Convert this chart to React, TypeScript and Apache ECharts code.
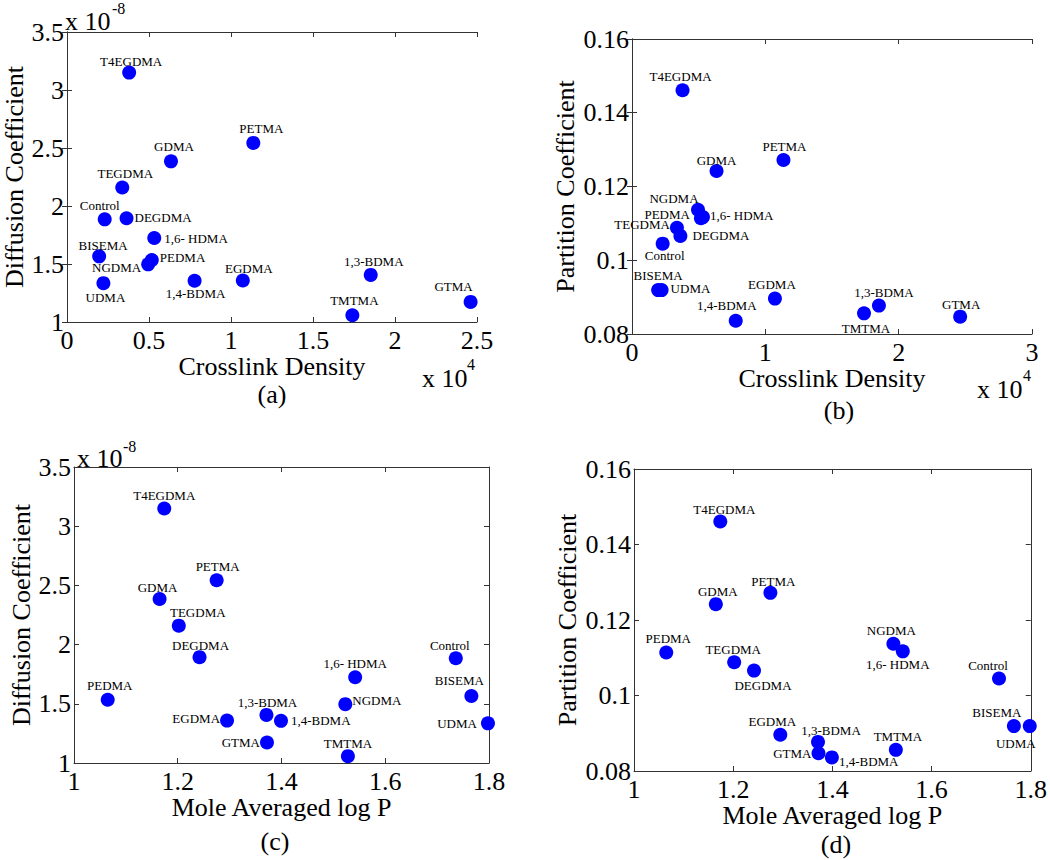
import React, { useEffect, useRef } from "react";
import * as echarts from "echarts";

// ---- data ----
const compounds = [
  "Control", "UDMA", "BISEMA", "TEGDMA", "T4EGDMA", "DEGDMA", "EGDMA", "GDMA",
  "NGDMA", "PEDMA", "1,3-BDMA", "1,4-BDMA", "1,6- HDMA", "PETMA", "TMTMA", "GTMA",
];
// Crosslink density, in units of 10^4
const crosslinkE4 = [0.23, 0.222, 0.196, 0.337, 0.379, 0.363, 1.072, 0.634, 0.495, 0.517, 1.852, 0.778, 0.532, 1.136, 1.74, 2.461];
// Mole averaged log P
const logP = [1.736, 1.798, 1.766, 1.202, 1.174, 1.242, 1.295, 1.165, 1.523, 1.065, 1.371, 1.399, 1.542, 1.275, 1.528, 1.372];
// Diffusion coefficient, in units of 10^-8
const diffusionE8 = [1.885, 1.335, 1.566, 2.16, 3.15, 1.894, 1.358, 2.385, 1.497, 1.534, 1.406, 1.356, 1.724, 2.544, 1.058, 1.173];
// Partition coefficient
const partition = [0.1045, 0.0919, 0.0919, 0.1088, 0.1461, 0.1066, 0.0896, 0.1242, 0.1137, 0.1114, 0.0877, 0.0836, 0.1117, 0.1272, 0.0856, 0.0847];

// tick labels
const crosslinkTicksA = [0, 0.5, 1, 1.5, 2, 2.5];
const crosslinkTicksB = [0, 1, 2, 3];
const logPTicks = [1, 1.2, 1.4, 1.6, 1.8];
const diffusionTicks = [1, 1.5, 2, 2.5, 3, 3.5];
const partitionTicks = [0.08, 0.1, 0.12, 0.14, 0.16];

// ---- label placement (layout only): [dx, dy, align] relative to marker centre ----
type Place = [number, number, "center" | "left" | "right"];
const placeA: Record<string, Place> = {
  "T4EGDMA": [2, -11, "center"], "PETMA": [8, -14, "center"], "GDMA": [3, -15, "center"],
  "TEGDMA": [3, -14, "center"], "Control": [-5, -14, "center"], "DEGDMA": [8, -1, "left"],
  "1,6- HDMA": [10, 0, "left"], "BISEMA": [4, -11, "center"], "PEDMA": [8, -3, "left"],
  "NGDMA": [-7, 3, "right"], "UDMA": [2, 14, "center"], "1,4-BDMA": [1, 13, "center"],
  "EGDMA": [6, -12, "center"], "1,3-BDMA": [3, -13, "center"], "TMTMA": [2, -15, "center"],
  "GTMA": [-17, -15, "center"],
};
const placeB: Record<string, Place> = {
  "T4EGDMA": [-2, -14, "center"], "PETMA": [1, -13, "center"], "GDMA": [0, -11, "center"],
  "NGDMA": [-24, -11, "center"], "PEDMA": [-11, -4, "right"], "1,6- HDMA": [7, -2, "left"],
  "TEGDMA": [-7, -3, "right"], "DEGDMA": [12, 0, "left"], "Control": [2, 12, "center"],
  "BISEMA": [0, -15, "center"], "UDMA": [9, -2, "left"], "EGDMA": [-3, -14, "center"],
  "1,4-BDMA": [-9, -15, "center"], "1,3-BDMA": [5, -13, "center"], "TMTMA": [2, 15, "center"],
  "GTMA": [1, -12, "center"],
};
const placeC: Record<string, Place> = {
  "T4EGDMA": [0, -13, "center"], "PETMA": [1, -14, "center"], "GDMA": [-2, -12, "center"],
  "TEGDMA": [19, -13, "center"], "DEGDMA": [1, -12, "center"], "PEDMA": [2, -14, "center"],
  "EGDMA": [-7, -2, "right"], "1,3-BDMA": [1, -12, "center"], "1,4-BDMA": [10, 0, "left"],
  "GTMA": [-7, 0, "right"], "1,6- HDMA": [0, -14, "center"], "NGDMA": [7, -4, "left"],
  "TMTMA": [0, -13, "center"], "Control": [-6, -13, "center"], "BISEMA": [-12, -15, "center"],
  "UDMA": [-11, 0, "right"],
};
const placeD: Record<string, Place> = {
  "T4EGDMA": [4, -12, "center"], "PETMA": [3, -11, "center"], "GDMA": [2, -13, "center"],
  "PEDMA": [2, -14, "center"], "TEGDMA": [-1, -13, "center"], "DEGDMA": [9, 15, "center"],
  "NGDMA": [-2, -13, "center"], "1,6- HDMA": [-5, 13, "center"], "Control": [-11, -13, "center"],
  "BISEMA": [-17, -14, "center"], "UDMA": [-14, 17, "center"], "EGDMA": [-8, -13, "center"],
  "1,3-BDMA": [13, -11, "center"], "GTMA": [-7, 0, "right"], "1,4-BDMA": [7, 4, "left"],
  "TMTMA": [2, -13, "center"],
};

const FONT = "Liberation Serif";
const AXIS_COLOR = "#333";

function buildOption() {
  const panels = [
    { grid: { left: 63, top: 32, width: 414, height: 290 }, x: crosslinkE4, y: diffusionE8,
      xt: crosslinkTicksA, yt: diffusionTicks, xName: "Crosslink Density", yName: "Diffusion Coefficient",
      xGap: 28, yGap: 40, place: placeA },
    { grid: { left: 632, top: 39, width: 400, height: 295 }, x: crosslinkE4, y: partition,
      xt: crosslinkTicksB, yt: partitionTicks, xName: "Crosslink Density", yName: "Partition Coefficient",
      xGap: 30, yGap: 54, place: placeB },
    { grid: { left: 74, top: 467, width: 415, height: 296 }, x: logP, y: diffusionE8,
      xt: logPTicks, yt: diffusionTicks, xName: "Mole Averaged log P", yName: "Diffusion Coefficient",
      xGap: 29, yGap: 39, place: placeC },
    { grid: { left: 634, top: 469, width: 399, height: 302 }, x: logP, y: partition,
      xt: logPTicks, yt: partitionTicks, xName: "Mole Averaged log P", yName: "Partition Coefficient",
      xGap: 29, yGap: 54, place: placeD },
  ];

  const grids: any[] = [];
  const xAxes: any[] = [];
  const yAxes: any[] = [];
  const series: any[] = [];

  const line = { show: true, lineStyle: { color: AXIS_COLOR, width: 1 } };
  const tick = { show: true, inside: true, length: 5, lineStyle: { color: AXIS_COLOR } };
  const tickLabel = { color: "#000", fontFamily: FONT, fontSize: 26 };

  panels.forEach((p, k) => {
    grids.push({ ...p.grid, show: false, containLabel: false });
    const xMin = p.xt[0], xMax = p.xt[p.xt.length - 1], xInt = p.xt[1] - p.xt[0];
    const yMin = p.yt[0], yMax = p.yt[p.yt.length - 1], yInt = p.yt[1] - p.yt[0];
    const xi = xAxes.length;
    xAxes.push({
      type: "value", gridIndex: k, position: "bottom", min: xMin, max: xMax, interval: xInt,
      axisLine: line, axisTick: tick, splitLine: { show: false },
      axisLabel: { ...tickLabel, margin: 5, formatter: (v: number) => String(+v.toFixed(4)) },
      name: p.xName, nameLocation: "middle", nameGap: p.xGap,
      nameTextStyle: { color: "#000", fontFamily: FONT, fontSize: 26 },
    });
    xAxes.push({
      type: "value", gridIndex: k, position: "top", min: xMin, max: xMax, interval: xInt,
      axisLine: line, axisTick: tick, splitLine: { show: false }, axisLabel: { show: false },
    });
    const yi = yAxes.length;
    yAxes.push({
      type: "value", gridIndex: k, position: "left", min: yMin, max: yMax, interval: yInt,
      axisLine: line, axisTick: tick, splitLine: { show: false },
      axisLabel: { ...tickLabel, margin: 3, formatter: (v: number) => String(+v.toFixed(4)) },
      name: p.yName, nameLocation: "middle", nameGap: p.yGap, nameRotate: 90,
      nameTextStyle: { color: "#000", fontFamily: FONT, fontSize: 26 },
    });
    yAxes.push({
      type: "value", gridIndex: k, position: "right", min: yMin, max: yMax, interval: yInt,
      axisLine: line, axisTick: tick, splitLine: { show: false }, axisLabel: { show: false },
    });
    series.push({
      type: "scatter", xAxisIndex: xi, yAxisIndex: yi, symbol: "circle", symbolSize: 14,
      itemStyle: { color: "#0000FF", opacity: 1 }, silent: true,
      data: compounds.map((n, i) => {
        const pl = p.place[n] || [0, -13, "center"];
        return {
          name: n, value: [p.x[i], p.y[i]],
          label: {
            show: true, formatter: n, position: "inside", offset: [pl[0], pl[1]], align: pl[2],
            verticalAlign: "middle", color: "#000", fontFamily: FONT, fontSize: 13,
          },
        };
      }),
    });
  });

  const txt = (x: number, y: number, text: string, size: number, align = "left") => ({
    type: "text", x, y, silent: true,
    style: {
      text, fill: "#000", font: `${size}px "${FONT}"`, fontFamily: FONT, fontSize: size,
      align, textAlign: align, verticalAlign: "middle", textVerticalAlign: "middle",
    },
  });

  const graphic = [
    txt(65, 21, "x 10", 26), txt(112, 8, "-8", 16),
    txt(422, 378, "x 10", 26), txt(467, 364, "4", 16),
    txt(272, 394, "(a)", 26, "center"),
    txt(977, 389, "x 10", 26), txt(1023, 375, "4", 16),
    txt(839, 410, "(b)", 26, "center"),
    txt(77, 458, "x 10", 26), txt(123, 446, "-8", 16),
    txt(275, 841, "(c)", 26, "center"),
    txt(836, 844, "(d)", 26, "center"),
  ];

  return {
    animation: false,
    backgroundColor: "#fff",
    grid: grids,
    xAxis: xAxes,
    yAxis: yAxes,
    series,
    graphic,
  };
}

export default function App() {
  const ref = useRef<HTMLDivElement>(null);
  useEffect(() => {
    if (!ref.current) return;
    const chart = echarts.init(ref.current, undefined, { renderer: "svg" });
    chart.setOption(buildOption() as any);
    return () => chart.dispose();
  }, []);
  return (
    <div
      ref={ref}
      style={{ position: "absolute", left: 0, top: 0, width: 1050, height: 860, background: "#fff" }}
    />
  );
}
